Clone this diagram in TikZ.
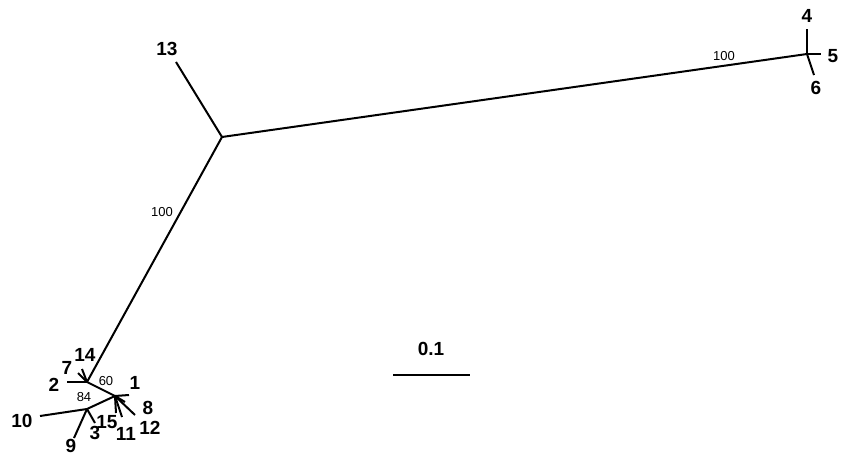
\documentclass[tikz,border=0pt]{standalone}
\usepackage{fontspec}
\setmainfont{Liberation Sans}
\begin{document}
\begin{tikzpicture}[x=1pt, y=-1pt, line width=2pt,
    leaf/.style={font=\fontsize{19}{19}\selectfont\bfseries, inner sep=1pt},
    boot/.style={font=\fontsize{13}{13}\selectfont, inner sep=1pt}]
    \useasboundingbox (0,0) rectangle (846,454);
    % internal nodes
    \coordinate (A) at (222,137);
    \coordinate (R) at (807,54);
    \coordinate (B) at (87,382);
    \coordinate (C) at (115,396);
    \coordinate (D) at (87,409);
    % leaves
    \coordinate (L13) at (176,62);
    \coordinate (L4) at (807,29);
    \coordinate (L5) at (821,54);
    \coordinate (L6) at (814,75);
    \coordinate (L2) at (67,382);
    \coordinate (L7) at (78,373);
    \coordinate (L14) at (82,369);
    \coordinate (L1) at (129,395);
    \coordinate (L8) at (125,402);
    \coordinate (L12) at (135,415);
    \coordinate (L11) at (122,417);
    \coordinate (L15) at (116,413);
    \coordinate (L10) at (40,416);
    \coordinate (L9) at (74,438);
    \coordinate (L3) at (95,423);
    % branches
    \draw (A) -- (L13);
    \draw (A) -- (R);
    \draw (A) -- (B);
    \draw (R) -- (L4);
    \draw (R) -- (L5);
    \draw (R) -- (L6);
    \draw (B) -- (L2);
    \draw (B) -- (L7);
    \draw (B) -- (L14);
    \draw (B) -- (C);
    \draw (C) -- (L1);
    \draw (C) -- (L8);
    \draw (C) -- (L12);
    \draw (C) -- (L11);
    \draw (C) -- (L15);
    \draw (C) -- (D);
    \draw (D) -- (L10);
    \draw (D) -- (L9);
    \draw (D) -- (L3);
    % leaf labels
    \node[leaf] (t13) at (167,49) {13};
    \node[leaf] (t4) at (807,16) {4};
    \node[leaf] (t5) at (833,56) {5};
    \node[leaf] (t6) at (816,88) {6};
    \node[leaf] (t2) at (54,385) {2};
    \node[leaf] (t7) at (67,368) {7};
    \node[leaf] (t14) at (85,355) {14};
    \node[leaf] (t1) at (135,383) {1};
    \node[leaf] (t8) at (148,408) {8};
    \node[leaf] (t12) at (150,428) {12};
    \node[leaf] (t11) at (126,434) {11};
    \node[leaf] (t15) at (107,422) {15};
    \node[leaf] (t10) at (22,421) {10};
    \node[leaf] (t9) at (71,446) {9};
    \node[leaf] (t3) at (95,433) {3};
    % support values
    \node[boot] (b1) at (724,56) {100};
    \node[boot] (b2) at (162,212) {100};
    \node[boot] (b3) at (106,381) {60};
    \node[boot] (b4) at (84,397) {84};
    % scale bar
    \coordinate (s1) at (393,375);
    \coordinate (s2) at (470,375);
    \draw (s1) -- (s2);
    \node[leaf] (sl) at (431,349) {0.1};
\end{tikzpicture}
\end{document}
